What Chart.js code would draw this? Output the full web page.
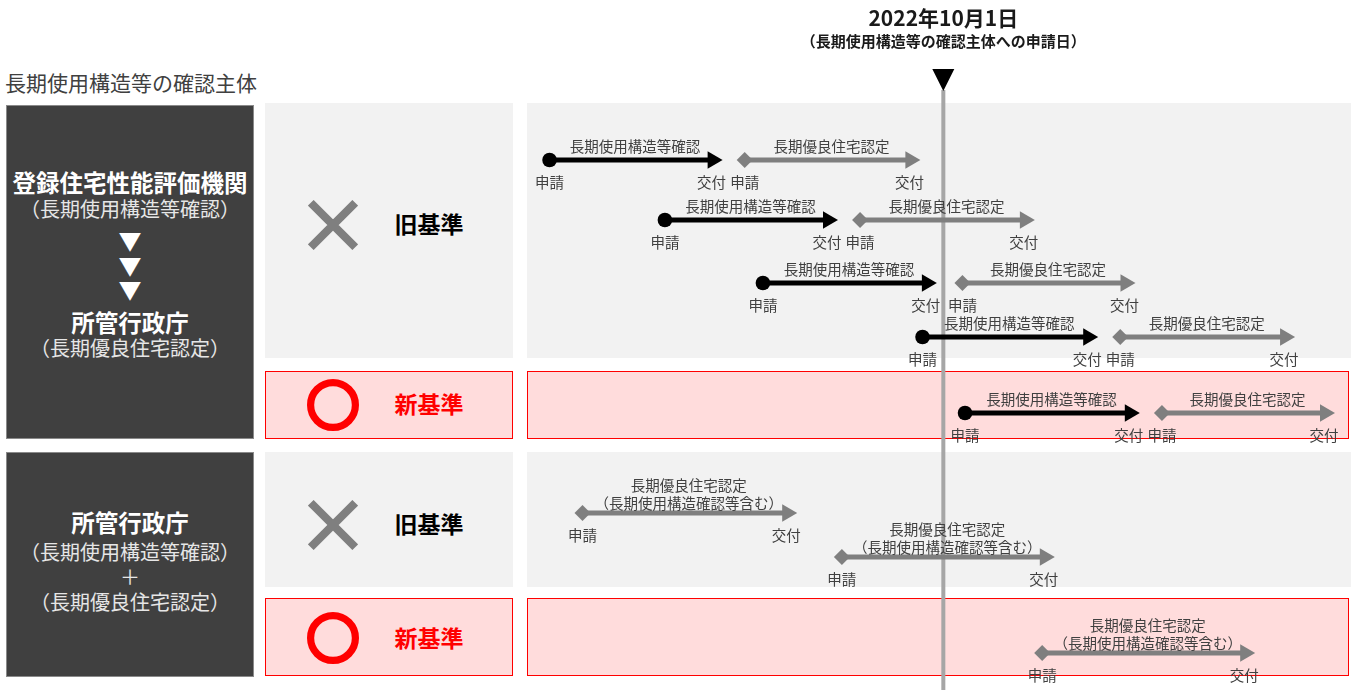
<!DOCTYPE html>
<html lang="ja">
<head>
<meta charset="utf-8">
<title>長期使用構造等の確認主体</title>
<script src="https://cdn.jsdelivr.net/npm/chart.js@4.4.1/dist/chart.umd.min.js"></script>
<style>
  html, body { margin: 0; padding: 0; background: #fff; }
  body {
    width: 1358px; height: 690px; position: relative; overflow: hidden;
    font-family: "Noto Sans CJK JP", "Noto Sans", sans-serif; color: #404040;
  }
  .abs { position: absolute; }
  .t { position: absolute; text-align: center; white-space: nowrap; height: 30px; line-height: 30px; }
  .heading { left: 5px; top: 67px; font-size: 21px; text-align: left; }
  .owner { left: 6px; width: 248px; background: #404040; border: 1px solid #8a8a8a; box-sizing: border-box; }
  .ownerText { left: 6px; width: 248px; }
  .big { font-size: 23.5px; font-weight: bold; color: #fff; }
  .sub { font-size: 20px; color: #e6e6e6; }
  .tri { font-size: 23px; color: #fff; }
  .panel { left: 265px; width: 248px; box-sizing: border-box; }
  .old { background: #f2f2f2; }
  .new { background: #ffdcdc; border: 1px solid #ff0000; }
  .verdict { left: 369px; width: 120px; font-size: 23px; font-weight: bold; color: #000; }
  .verdict.red { color: #ff0000; }
  #timeline { position: absolute; left: 527px; top: 0; width: 824px; height: 690px; }
</style>
</head>
<body>

<div class="t heading">長期使用構造等の確認主体</div>

<!-- 上段：登録住宅性能評価機関 → 所管行政庁 -->
<div class="abs owner" style="top:105px;height:334px;"></div>
<div class="t ownerText big" style="top:167px;">登録住宅性能評価機関</div>
<div class="t ownerText sub" style="top:194px;">（長期使用構造等確認）</div>
<div class="t ownerText tri" style="top:225px;">▼</div>
<div class="t ownerText tri" style="top:250px;">▼</div>
<div class="t ownerText tri" style="top:274px;">▼</div>
<div class="t ownerText big" style="top:307px;">所管行政庁</div>
<div class="t ownerText sub" style="top:333px;">（長期優良住宅認定）</div>

<div class="abs panel old" style="top:103px;height:255px;"></div>
<svg class="abs" style="left:308px;top:200px;" width="50" height="50">
  <path d="M2.8 2.8 L47.2 47.2 M47.2 2.8 L2.8 47.2" stroke="#7f7f7f" stroke-width="8" fill="none"/>
</svg>
<div class="t verdict" style="top:208px;">旧基準</div>

<div class="abs panel new" style="top:371px;height:68px;"></div>
<svg class="abs" style="left:307px;top:379px;" width="52" height="52">
  <circle cx="26" cy="26" r="22.4" stroke="#ff0000" stroke-width="7.2" fill="none"/>
</svg>
<div class="t verdict red" style="top:388px;">新基準</div>

<!-- 下段：所管行政庁 -->
<div class="abs owner" style="top:452px;height:225px;"></div>
<div class="t ownerText big" style="top:507px;">所管行政庁</div>
<div class="t ownerText sub" style="top:537px;">（長期使用構造等確認）</div>
<div class="t ownerText sub" style="top:562px;">＋</div>
<div class="t ownerText sub" style="top:587px;">（長期優良住宅認定）</div>

<div class="abs panel old" style="top:452px;height:135px;"></div>
<svg class="abs" style="left:308px;top:500px;" width="50" height="50">
  <path d="M2.8 2.8 L47.2 47.2 M47.2 2.8 L2.8 47.2" stroke="#7f7f7f" stroke-width="8" fill="none"/>
</svg>
<div class="t verdict" style="top:508px;">旧基準</div>

<div class="abs panel new" style="top:598px;height:78px;"></div>
<svg class="abs" style="left:307px;top:612px;" width="52" height="52">
  <circle cx="26" cy="26" r="22.4" stroke="#ff0000" stroke-width="7.2" fill="none"/>
</svg>
<div class="t verdict red" style="top:622px;">新基準</div>

<div id="timeline"><canvas id="timelineChart"></canvas></div>

<script>
// 基準日 = 2022年10月1日 (x軸の単位は基準日からの週)
const markerDate = 0;
const titleLines = ['2022年10月1日', '（長期使用構造等の確認主体への申請日）'];

// 各行の段（y軸の値）
const rowLanes = [16.0, 22.0, 28.3, 33.7, 41.3, 51.3, 55.7, 65.3];

// 長期使用構造等確認：申請 → 交付
const kakuninApply = [-22.7, -16.05, -10.4, -1.2, 1.25, null, null, null];
const kakuninIssue = [-13.3, -6.65, -0.95, 8.35, 10.75, null, null, null];
const kakuninLabel = ['長期使用構造等確認'];

// 長期優良住宅認定：申請 → 交付
const ninteiApply = [-11.45, -4.8, 1.1, 10.2, 12.6, -20.8, -5.85, 5.7];
const ninteiIssue = [-1.9, 4.7, 10.5, 19.7, 22.0, -9.0, 5.85, 17.4];
const ninteiLabels = [
  ['長期優良住宅認定'],
  ['長期優良住宅認定'],
  ['長期優良住宅認定'],
  ['長期優良住宅認定'],
  ['長期優良住宅認定'],
  ['長期優良住宅認定', '（長期使用構造確認等含む）'],
  ['長期優良住宅認定', '（長期使用構造確認等含む）'],
  ['長期優良住宅認定', '（長期使用構造確認等含む）']
];
const applyText = '申請';
const issueText = '交付';

// 背景の帯（段の範囲）
const bandFrom = [10.3, 37.15, 45.2, 59.8];
const bandTo = [35.75, 43.85, 58.65, 67.6];
const bandIsNew = [false, true, false, true];

const FONT = '"Noto Sans CJK JP", "Noto Sans", sans-serif';

function arrowDataset(start, end, lane, color, startStyle, startRadius, lines) {
  return {
    data: [{ x: start, y: lane }, { x: end, y: lane }],
    showLine: true,
    borderColor: color,
    borderWidth: 5,
    pointStyle: [startStyle, 'triangle'],
    pointRotation: [0, 90],
    pointRadius: [startRadius, 10],
    pointBackgroundColor: color,
    pointBorderWidth: 0,
    labelLines: lines
  };
}

const datasets = [];
rowLanes.forEach((lane, i) => {
  if (kakuninApply[i] !== null) {
    datasets.push(arrowDataset(kakuninApply[i], kakuninIssue[i], lane, '#000000', 'circle', 7.3, kakuninLabel));
  }
  datasets.push(arrowDataset(ninteiApply[i], ninteiIssue[i], lane, '#7f7f7f', 'rectRot', 8, ninteiLabels[i]));
});

const timelinePlugin = {
  id: 'timeline',
  beforeDatasetsDraw(chart) {
    const { ctx, chartArea: a, scales: { x, y } } = chart;
    ctx.save();
    bandFrom.forEach((from, i) => {
      const top = Math.round(y.getPixelForValue(from));
      const bottom = Math.round(y.getPixelForValue(bandTo[i]));
      if (bandIsNew[i]) {
        ctx.fillStyle = '#ffdcdc';
        ctx.fillRect(a.left, top, a.right - a.left - 2, bottom - top);
        ctx.strokeStyle = '#ff0000';
        ctx.lineWidth = 1;
        ctx.strokeRect(a.left + 0.5, top + 0.5, a.right - a.left - 3, bottom - top - 1);
      } else {
        ctx.fillStyle = '#f2f2f2';
        ctx.fillRect(a.left, top, a.right - a.left, bottom - top);
      }
    });
    // 基準日の縦線と▼
    const mx = x.getPixelForValue(markerDate);
    const lineTop = y.getPixelForValue(9.0);
    ctx.fillStyle = '#a6a6a6';
    ctx.fillRect(mx - 2, lineTop, 4, a.bottom - lineTop);
    ctx.fillStyle = '#000000';
    ctx.beginPath();
    ctx.moveTo(mx - 11, y.getPixelForValue(6.9));
    ctx.lineTo(mx + 11, y.getPixelForValue(6.9));
    ctx.lineTo(mx, lineTop + 1);
    ctx.closePath();
    ctx.fill();
    // タイトル
    ctx.fillStyle = '#1a1a1a';
    ctx.textAlign = 'center';
    ctx.textBaseline = 'middle';
    ctx.font = 'bold 21px ' + FONT;
    ctx.fillText(titleLines[0], mx, a.top + 18);
    ctx.font = 'bold 15px ' + FONT;
    ctx.fillText(titleLines[1], mx, a.top + 41);
    ctx.restore();
  },
  afterDatasetsDraw(chart) {
    const { ctx } = chart;
    ctx.save();
    ctx.fillStyle = '#404040';
    ctx.textAlign = 'center';
    ctx.textBaseline = 'middle';
    ctx.font = '14.5px ' + FONT;
    chart.data.datasets.forEach((ds, i) => {
      const pts = chart.getDatasetMeta(i).data;
      const p0 = pts[0], p1 = pts[1];
      const mid = (p0.x + p1.x) / 2 + 4;
      const lines = ds.labelLines;
      const lastOffset = lines.length === 1 ? -14 : -10;
      lines.forEach((txt, k) => {
        ctx.fillText(txt, mid, p0.y + lastOffset - (lines.length - 1 - k) * 18);
      });
      ctx.fillText(applyText, p0.x, p0.y + 22);
      ctx.fillText(issueText, p1.x - 1, p1.y + 22);
    });
    ctx.restore();
  }
};

new Chart(document.getElementById('timelineChart').getContext('2d'), {
  type: 'scatter',
  data: { datasets },
  options: {
    responsive: true,
    maintainAspectRatio: false,
    animation: false,
    events: [],
    layout: { padding: 0, autoPadding: false },
    plugins: {
      legend: { display: false },
      tooltip: { enabled: false },
      title: { display: false }
    },
    scales: {
      x: { type: 'linear', min: -24, max: 23.5, display: false },
      y: { type: 'linear', min: 0, max: 69, reverse: true, display: false }
    }
  },
  plugins: [timelinePlugin]
});
</script>
</body>
</html>
